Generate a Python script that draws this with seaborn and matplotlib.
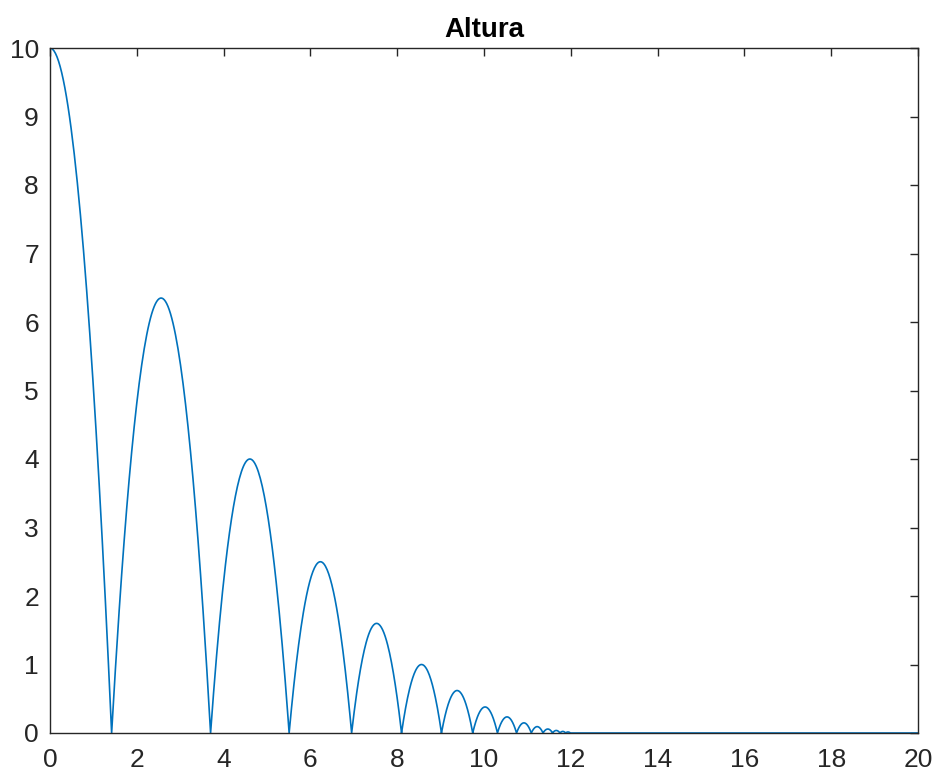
import numpy as np
import pandas as pd
import matplotlib
matplotlib.use("Agg")
import matplotlib.pyplot as plt
import seaborn as sns

# Bounce data: ground contact times (s) and peak heights (m)
contacts = [-1.42, 1.42, 3.70, 5.51, 6.95, 8.10, 9.02, 9.74, 10.31, 10.75,
            11.09, 11.36, 11.58, 11.75, 11.88, 11.99]
peaks = [10.0, 6.35, 4.0, 2.5, 1.6, 1.0, 0.62, 0.38, 0.235, 0.148,
         0.093, 0.058, 0.037, 0.023, 0.015]
t_end = 20.0

# Build the trajectory: each flight between two contacts is a parabolic arc
rows = []
for s, e, p in zip(contacts[:-1], contacts[1:], peaks):
    mid, half = (s + e) / 2, (e - s) / 2
    t = np.linspace(s, e, 80)
    h = p * (1 - ((t - mid) / half) ** 2)
    rows.append(pd.DataFrame({"t": t, "h": h}))
rows.append(pd.DataFrame({"t": [contacts[-1], t_end], "h": [0.0, 0.0]}))
df = pd.concat(rows, ignore_index=True)
df = df[df["t"] >= 0]

sns.set_style("white")
plt.rcParams["font.family"] = ["Liberation Sans", "DejaVu Sans"]

fig = plt.figure(figsize=(9.39, 7.79), dpi=100)
ax = fig.add_axes([50 / 939, 1 - 733 / 779, 868 / 939, 685 / 779])

sns.lineplot(data=df, x="t", y="h", ax=ax, color="#0072BD", linewidth=1.2,
             estimator=None, sort=False)

ax.set_xlim(0, 20)
ax.set_ylim(0, 10)
ax.set_xticks(np.arange(0, 21, 2))
ax.set_yticks(np.arange(0, 11, 1))
ax.set_xlabel("")
ax.set_ylabel("")
ax.set_title("Altura", fontsize=20, fontweight="bold", color="black", pad=8)

for sp in ax.spines.values():
    sp.set_color("#262626")
    sp.set_linewidth(1.0)
    sp.set_visible(True)
ax.tick_params(direction="in", length=6, width=1, colors="#262626",
               labelsize=19, top=True, right=True, labelcolor="#262626")
ax.tick_params(axis="x", pad=11)
ax.tick_params(axis="y", pad=8)

fig.savefig("out.png", dpi=100)
